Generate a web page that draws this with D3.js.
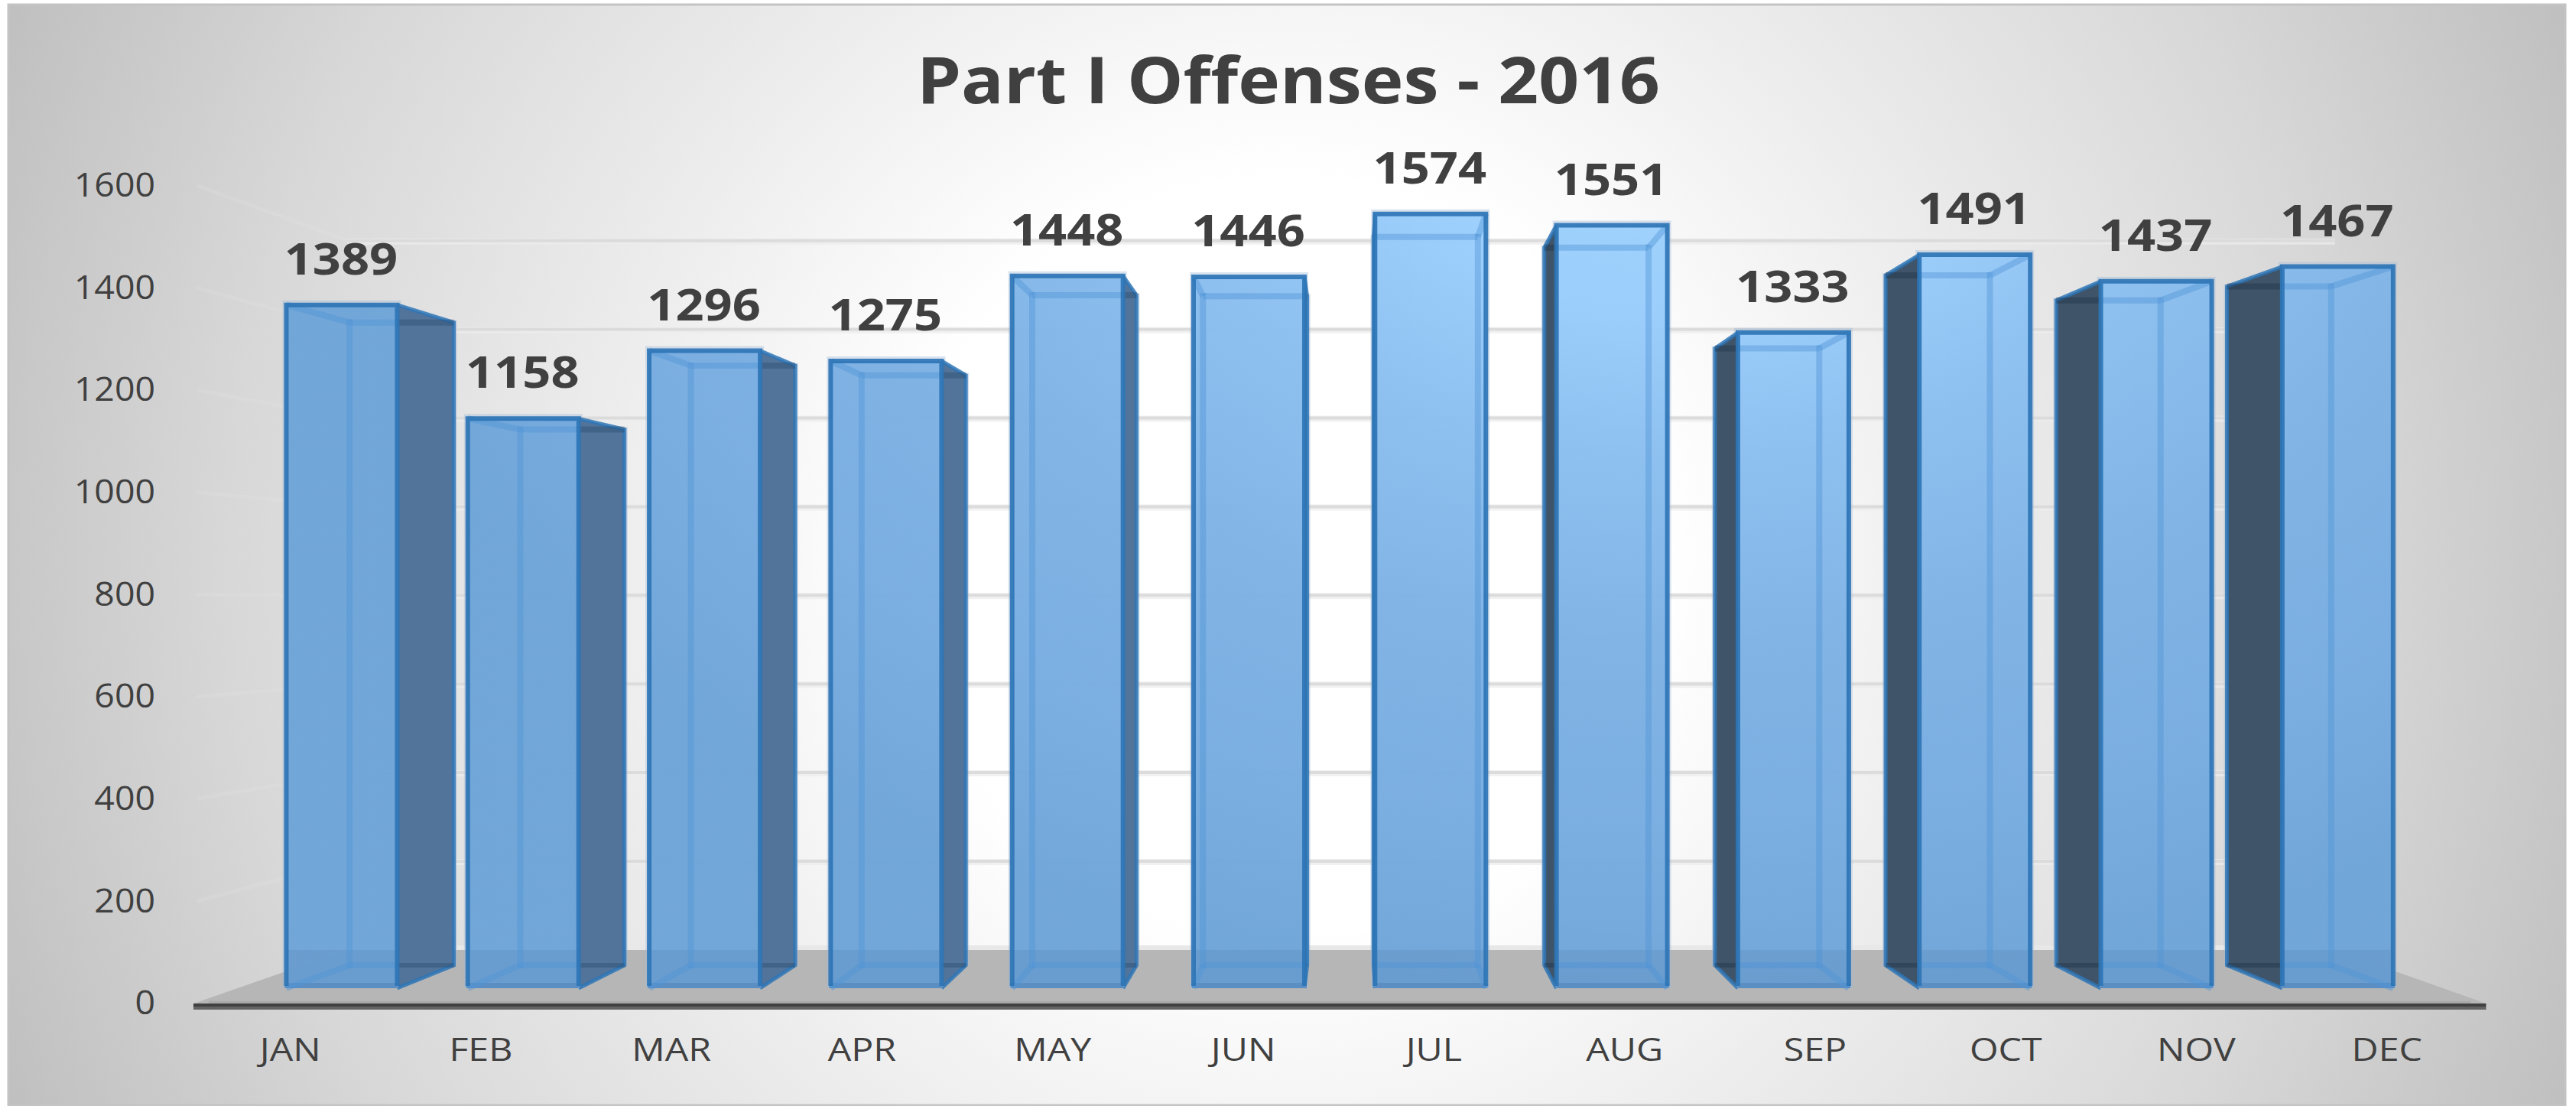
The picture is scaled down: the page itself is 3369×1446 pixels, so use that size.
<!DOCTYPE html>
<html><head><meta charset="utf-8">
<style>html,body{margin:0;padding:0;background:#fff}svg{display:block}text{font-family:"Open Sans",sans-serif;fill:#404040}</style>
<script src="https://cdn.jsdelivr.net/npm/d3@7"></script></head>
<body><svg id="c" width="3369" height="1446"></svg>
<script>
const titleText = "Part I Offenses - 2016";
const months = ["JAN","FEB","MAR","APR","MAY","JUN","JUL","AUG","SEP","OCT","NOV","DEC"];
const offenses = [1389,1158,1296,1275,1448,1446,1574,1551,1333,1491,1437,1467];
const yTicks = [0,200,400,600,800,1000,1200,1400,1600];

const PL=11,PR=3355,PT=6,PB=1445, vx=1767, vy=786;
const depthAxis=1.0395, depthWall=0.901, depthBar=0.9406;
const svg=d3.select("#c");
const defs=svg.append("defs");

const y=d3.scaleLinear().domain([0,1600]).range([1292,263]);
const x=d3.scaleBand().domain(months).range([328.3,3176]).paddingInner(.389).paddingOuter(.1945);
const px=(v,d)=>vx+(v-vx)*d, py=(v,d)=>vy+(v-vy)*d;
const plotL=310.5, plotR=3195;
const yAxisScale=y.copy().range(y.range().map(v=>py(v,depthAxis)));
const xAxisScale=d3.scaleBand().domain(months).range([px(plotL,depthAxis)+2,px(plotR,depthAxis)-5]);

const bg=defs.append("radialGradient").attr("id","bg").attr("gradientUnits","userSpaceOnUse")
 .attr("cx",(PL+PR)/2).attr("cy",(PT+PB)/2).attr("r",1830);
[[0,"#fff"],[.27,"#fff"],[.5,"#ececec"],[.75,"#d8d8d8"],[1,"#bfbfbf"]].forEach(s=>bg.append("stop").attr("offset",s[0]).attr("stop-color",s[1]));
const bf=defs.append("radialGradient").attr("id","barFill").attr("gradientUnits","userSpaceOnUse")
 .attr("cx",0).attr("cy",0).attr("r",1).attr("gradientTransform","translate(2200,150) scale(1750,1150)");
[[0,"#a1d4ff"],[.22,"#9bcefc"],[.4,"#8bbeef"],[.6,"#7fb3e5"],[.8,"#79ade1"],[1,"#6fa5d8"]].forEach(s=>bf.append("stop").attr("offset",s[0]).attr("stop-color",s[1]));

svg.append("rect").attr("x",PL).attr("y",PT).attr("width",PR-PL).attr("height",PB-PT).attr("fill","url(#bg)");
svg.append("path").attr("d",`M${PL},${PB}V${PT}H${PR}V${PB}Z`).attr("fill","none").attr("stroke","#c4c4c4").attr("stroke-width",3);

// wall gridlines
const grid=svg.append("g");
const wallL=px(plotL,depthWall), wallR=px(plotR,depthWall);
yTicks.filter(t=>t>0).forEach(t=>{
  const yw=py(y(t),depthWall), ya=yAxisScale(t);
  grid.append("line").attr("x1",px(plotL,depthAxis)+4).attr("y1",ya).attr("x2",wallL).attr("y2",yw)
    .attr("stroke","#e4e4e4").attr("stroke-opacity",.2).attr("stroke-width",5);
  grid.append("line").attr("x1",wallL).attr("x2",wallR).attr("y1",yw+1).attr("y2",yw+1).attr("stroke","#ececec").attr("stroke-width",8).attr("stroke-opacity",.75);
  grid.append("line").attr("x1",wallL).attr("x2",wallR).attr("y1",yw).attr("y2",yw).attr("stroke","#d9d9d9").attr("stroke-width",4).attr("stroke-opacity",.9);
});

// floor
const floorBack=py(y(0),depthWall), floorFront=py(y(0),depthAxis);
svg.append("line").attr("x1",wallL).attr("x2",wallR).attr("y1",floorBack-3).attr("y2",floorBack-3).attr("stroke","#e8e8e8").attr("stroke-width",6);
svg.append("polygon").attr("fill","#b6b6b6").attr("points",[
  [px(plotL,depthAxis),floorFront],[wallL,floorBack],[wallR,floorBack],[px(plotR,depthAxis),floorFront]].join(" "));
const axL=px(plotL,depthAxis), axR=px(plotR,depthAxis);
svg.append("rect").attr("x",axL+20).attr("y",floorFront-3).attr("width",axR-axL-40).attr("height",3).attr("fill","#a9a9a9");
svg.append("rect").attr("x",axL).attr("y",floorFront).attr("width",axR-axL).attr("height",4).attr("fill","#404040");
svg.append("rect").attr("x",axL).attr("y",floorFront+4).attr("width",axR-axL).attr("height",4).attr("fill","#636363");

// bars
const bars=svg.append("g").selectAll("g").data(months.map((m,i)=>({m,v:offenses[i]}))).join("g");
bars.each(function(d){
  const g=d3.select(this);
  const x0=x(d.m), x1=x0+x.bandwidth(), y0=y(d.v), y1=y(0);
  const bx0=px(x0,depthBar), bx1=px(x1,depthBar), by0=py(y0,depthBar), by1=py(y1,depthBar);
  const blue="#2e75b6", edge="#4f93d6";
  // halo around the front face
  g.append("rect").attr("x",x0-5).attr("y",y0-6).attr("width",x1-x0+10).attr("height",y1-y0+6)
    .attr("fill","#9fb9d8").attr("fill-opacity",.4);
  // side faces
  if(bx1>x1+1){
    g.append("rect").attr("x",bx1-1).attr("y",by0-3).attr("width",5).attr("height",by1-by0+3).attr("fill","#9fb9d8").attr("fill-opacity",.45);
    g.append("polygon").attr("points",[[x1,y0],[bx1,by0],[bx1,by1],[x1,y1]].join(" ")).attr("fill","#52749a");
    g.append("path").attr("d",`M${x1},${y0}L${bx1},${by0}V${by1}L${x1},${y1}`).attr("fill","none").attr("stroke",blue).attr("stroke-width",5).attr("stroke-opacity",.85);
    g.append("line").attr("x1",x1).attr("x2",bx1).attr("y1",by0).attr("y2",by0).attr("stroke","#1c3d5e").attr("stroke-width",8).attr("stroke-opacity",.3);
    g.append("line").attr("x1",x1).attr("x2",bx1).attr("y1",by1).attr("y2",by1).attr("stroke","#1c3d5e").attr("stroke-width",6).attr("stroke-opacity",.3);
  }
  if(bx0<x0-1){
    g.append("rect").attr("x",bx0-4).attr("y",by0-3).attr("width",5).attr("height",by1-by0+3).attr("fill","#9fb9d8").attr("fill-opacity",.45);
    g.append("polygon").attr("points",[[x0,y0],[bx0,by0],[bx0,by1],[x0,y1]].join(" ")).attr("fill","#3f5469");
    g.append("path").attr("d",`M${x0},${y0}L${bx0},${by0}V${by1}L${x0},${y1}`).attr("fill","none").attr("stroke",blue).attr("stroke-width",5).attr("stroke-opacity",.85);
    g.append("line").attr("x1",x0).attr("x2",bx0).attr("y1",by0).attr("y2",by0).attr("stroke","#12263a").attr("stroke-width",8).attr("stroke-opacity",.3);
    g.append("line").attr("x1",x0).attr("x2",bx0).attr("y1",by1).attr("y2",by1).attr("stroke","#12263a").attr("stroke-width",6).attr("stroke-opacity",.3);
  }
  // front face
  g.append("rect").attr("x",x0).attr("y",y0).attr("width",x1-x0).attr("height",y1-y0)
    .attr("fill","url(#barFill)").attr("fill-opacity",.97);
  // shade where the bar stands on the floor
  g.append("rect").attr("x",x0).attr("y",floorBack).attr("width",x1-x0).attr("height",y1-floorBack)
    .attr("fill","#4f7fb0").attr("fill-opacity",.2);
  g.append("rect").attr("x",x0-2).attr("y",y1-7).attr("width",x1-x0+4).attr("height",7).attr("fill","#5b8fc4");
  // back edges seen through the front face
  const ix0=Math.max(bx0,x0), ix1=Math.min(bx1,x1);
  const inner=(a,b,c,e)=>g.append("line").attr("x1",a).attr("y1",b).attr("x2",c).attr("y2",e)
     .attr("stroke",edge).attr("stroke-width",8).attr("stroke-opacity",.42);
  inner(ix0,by0,ix1,by0); inner(ix0,by1,ix1,by1);
  if(bx0>x0) inner(bx0,by0-4,bx0,by1+4);
  if(bx1<x1) inner(bx1,by0-4,bx1,by1+4);
  if(bx0>x0){inner(x0,y0,bx0,by0);inner(x0,y1,bx0,by1);}
  if(bx1<x1){inner(x1,y0,bx1,by0);inner(x1,y1,bx1,by1);}
  // front edges
  g.append("path").attr("d",`M${x0},${y1-3}V${y0}H${x1}V${y1-3}`).attr("fill","none")
    .attr("stroke",blue).attr("stroke-width",6).attr("stroke-opacity",.92);
});

function stretch(sel,f){sel.each(function(){this.setAttribute("lengthAdjust","spacingAndGlyphs");this.setAttribute("textLength",this.getComputedTextLength()*f);});}

// value labels
const labels=svg.append("g").selectAll("text").data(months.map((m,i)=>({m,v:offenses[i]}))).join("text")
  .attr("x",d=>x(d.m)+x.bandwidth()/2-1).attr("y",d=>y(d.v)-40).attr("text-anchor","middle")
  .attr("font-size",58).attr("font-weight",700).text(d=>d.v);
stretch(labels,1.12);

// axes
const ya=svg.append("g").attr("transform","translate(203,0)")
  .call(d3.axisLeft(yAxisScale).tickValues(yTicks).tickFormat(d3.format("d")).tickSize(0).tickPadding(0));
ya.select(".domain").remove();
ya.selectAll("text").attr("font-size",43).attr("x",0).attr("dy",0).attr("y",14).attr("fill","#404040").style("font-family",'"Open Sans",sans-serif');
stretch(ya.selectAll("text"),1.08);
const xa=svg.append("g").attr("transform","translate(0,1387)").call(d3.axisBottom(xAxisScale).tickSize(0).tickPadding(0));
xa.select(".domain").remove();
xa.selectAll("text").attr("font-size",42).attr("y",0).attr("dy",0).attr("fill","#404040").style("font-family",'"Open Sans",sans-serif');
stretch(xa.selectAll("text"),1.15);

// title
svg.append("text").attr("x",1685).attr("y",135).attr("text-anchor","middle").attr("font-size",85).attr("font-weight",700)
  .attr("textLength",972).attr("lengthAdjust","spacingAndGlyphs").text(titleText);
</script></body></html>
